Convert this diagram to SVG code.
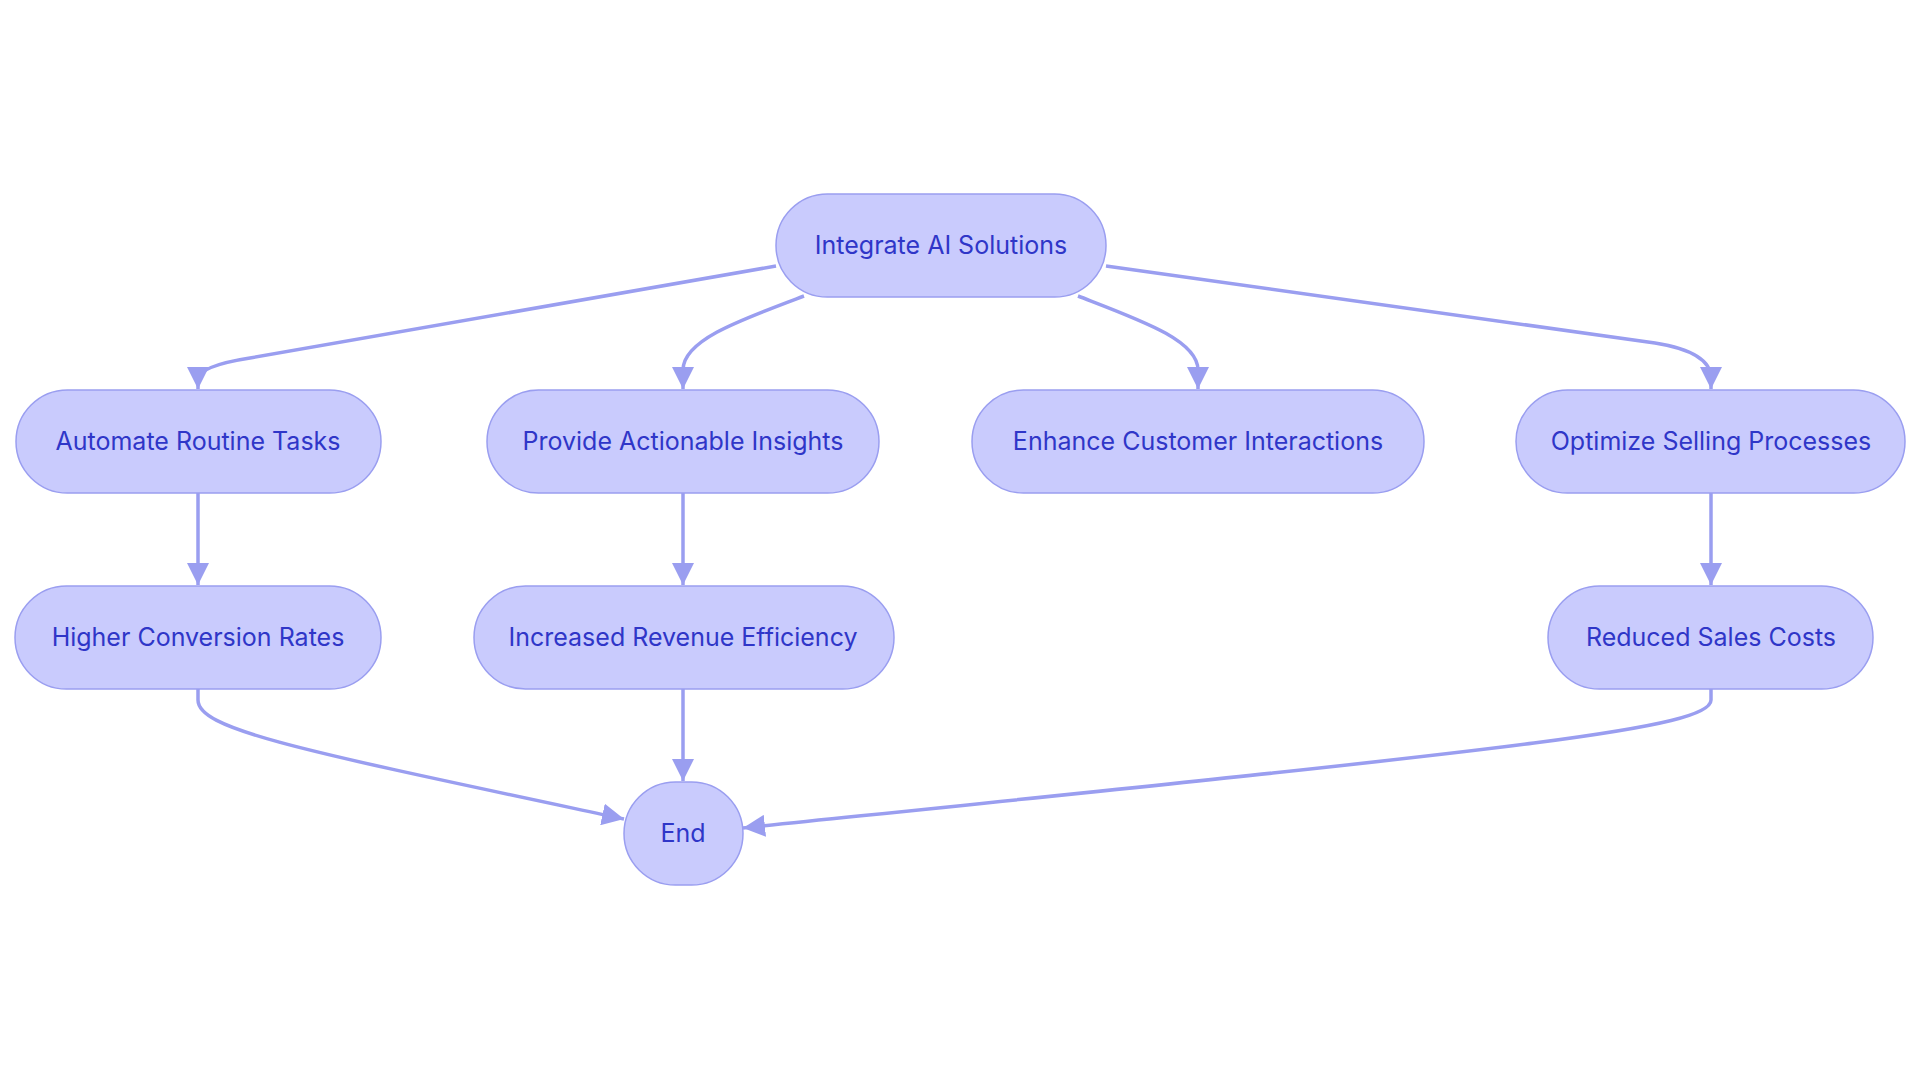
<svg xmlns="http://www.w3.org/2000/svg" width="1920" height="1083" viewBox="0 0 1920 1083">
<style>
.n rect{fill:#c9cbfd;stroke:#9a9ef0;stroke-width:1.5}
.n text{font-family:Inter,"Noto Sans",sans-serif;font-size:25px;fill:#2f36c8;text-anchor:middle;dominant-baseline:central}
.e path{fill:none;stroke:#9a9ef0;stroke-width:3.5;marker-end:url(#a)}
</style>
<defs><marker id="a" markerUnits="userSpaceOnUse" viewBox="0 0 20 20" refX="20" refY="10" markerWidth="22" markerHeight="22" orient="auto"><path d="M0,0 L20,10 L0,20 z" fill="#9a9ef0"/></marker></defs>
<rect width="1920" height="1083" fill="#fff"/>
<g class="e">
<path d="M776,266 L250,358 Q198,366 198,380 L198,389"/>
<path d="M804,296 C740,320 683,340 683,370 L683,389"/>
<path d="M1078,296 C1140,320 1198,340 1198,370 L1198,389"/>
<path d="M1106,266 L1655,343 Q1711,352 1711,378 L1711,389"/>
<path d="M198,493 L198,585"/>
<path d="M683,493 L683,585"/>
<path d="M1711,493 L1711,585"/>
<path d="M683,689 L683,781"/>
<path d="M198,689 L198,700 C198,730 300,750 624,819"/>
<path d="M1711,689 L1711,700 C1711,730 1500,750 743,828"/>
</g>
<g class="n" id="n1"><rect x="776" y="194" width="330" height="103" rx="51.5"/><text x="941" y="245">Integrate AI Solutions</text></g>
<g class="n" id="n2"><rect x="16" y="390" width="365" height="103" rx="51.5"/><text x="198" y="441">Automate Routine Tasks</text></g>
<g class="n" id="n3"><rect x="487" y="390" width="392" height="103" rx="51.5"/><text x="683" y="441">Provide Actionable Insights</text></g>
<g class="n" id="n4"><rect x="972" y="390" width="452" height="103" rx="51.5"/><text x="1198" y="441">Enhance Customer Interactions</text></g>
<g class="n" id="n5"><rect x="1516" y="390" width="389" height="103" rx="51.5"/><text x="1711" y="441">Optimize Selling Processes</text></g>
<g class="n" id="n6"><rect x="15" y="586" width="366" height="103" rx="51.5"/><text x="198" y="637">Higher Conversion Rates</text></g>
<g class="n" id="n7"><rect x="474" y="586" width="420" height="103" rx="51.5"/><text x="683" y="637">Increased Revenue Efficiency</text></g>
<g class="n" id="n8"><rect x="1548" y="586" width="325" height="103" rx="51.5"/><text x="1711" y="637">Reduced Sales Costs</text></g>
<g class="n" id="n9"><rect x="624" y="782" width="119" height="103" rx="51.5"/><text x="683" y="833">End</text></g>
</svg>
